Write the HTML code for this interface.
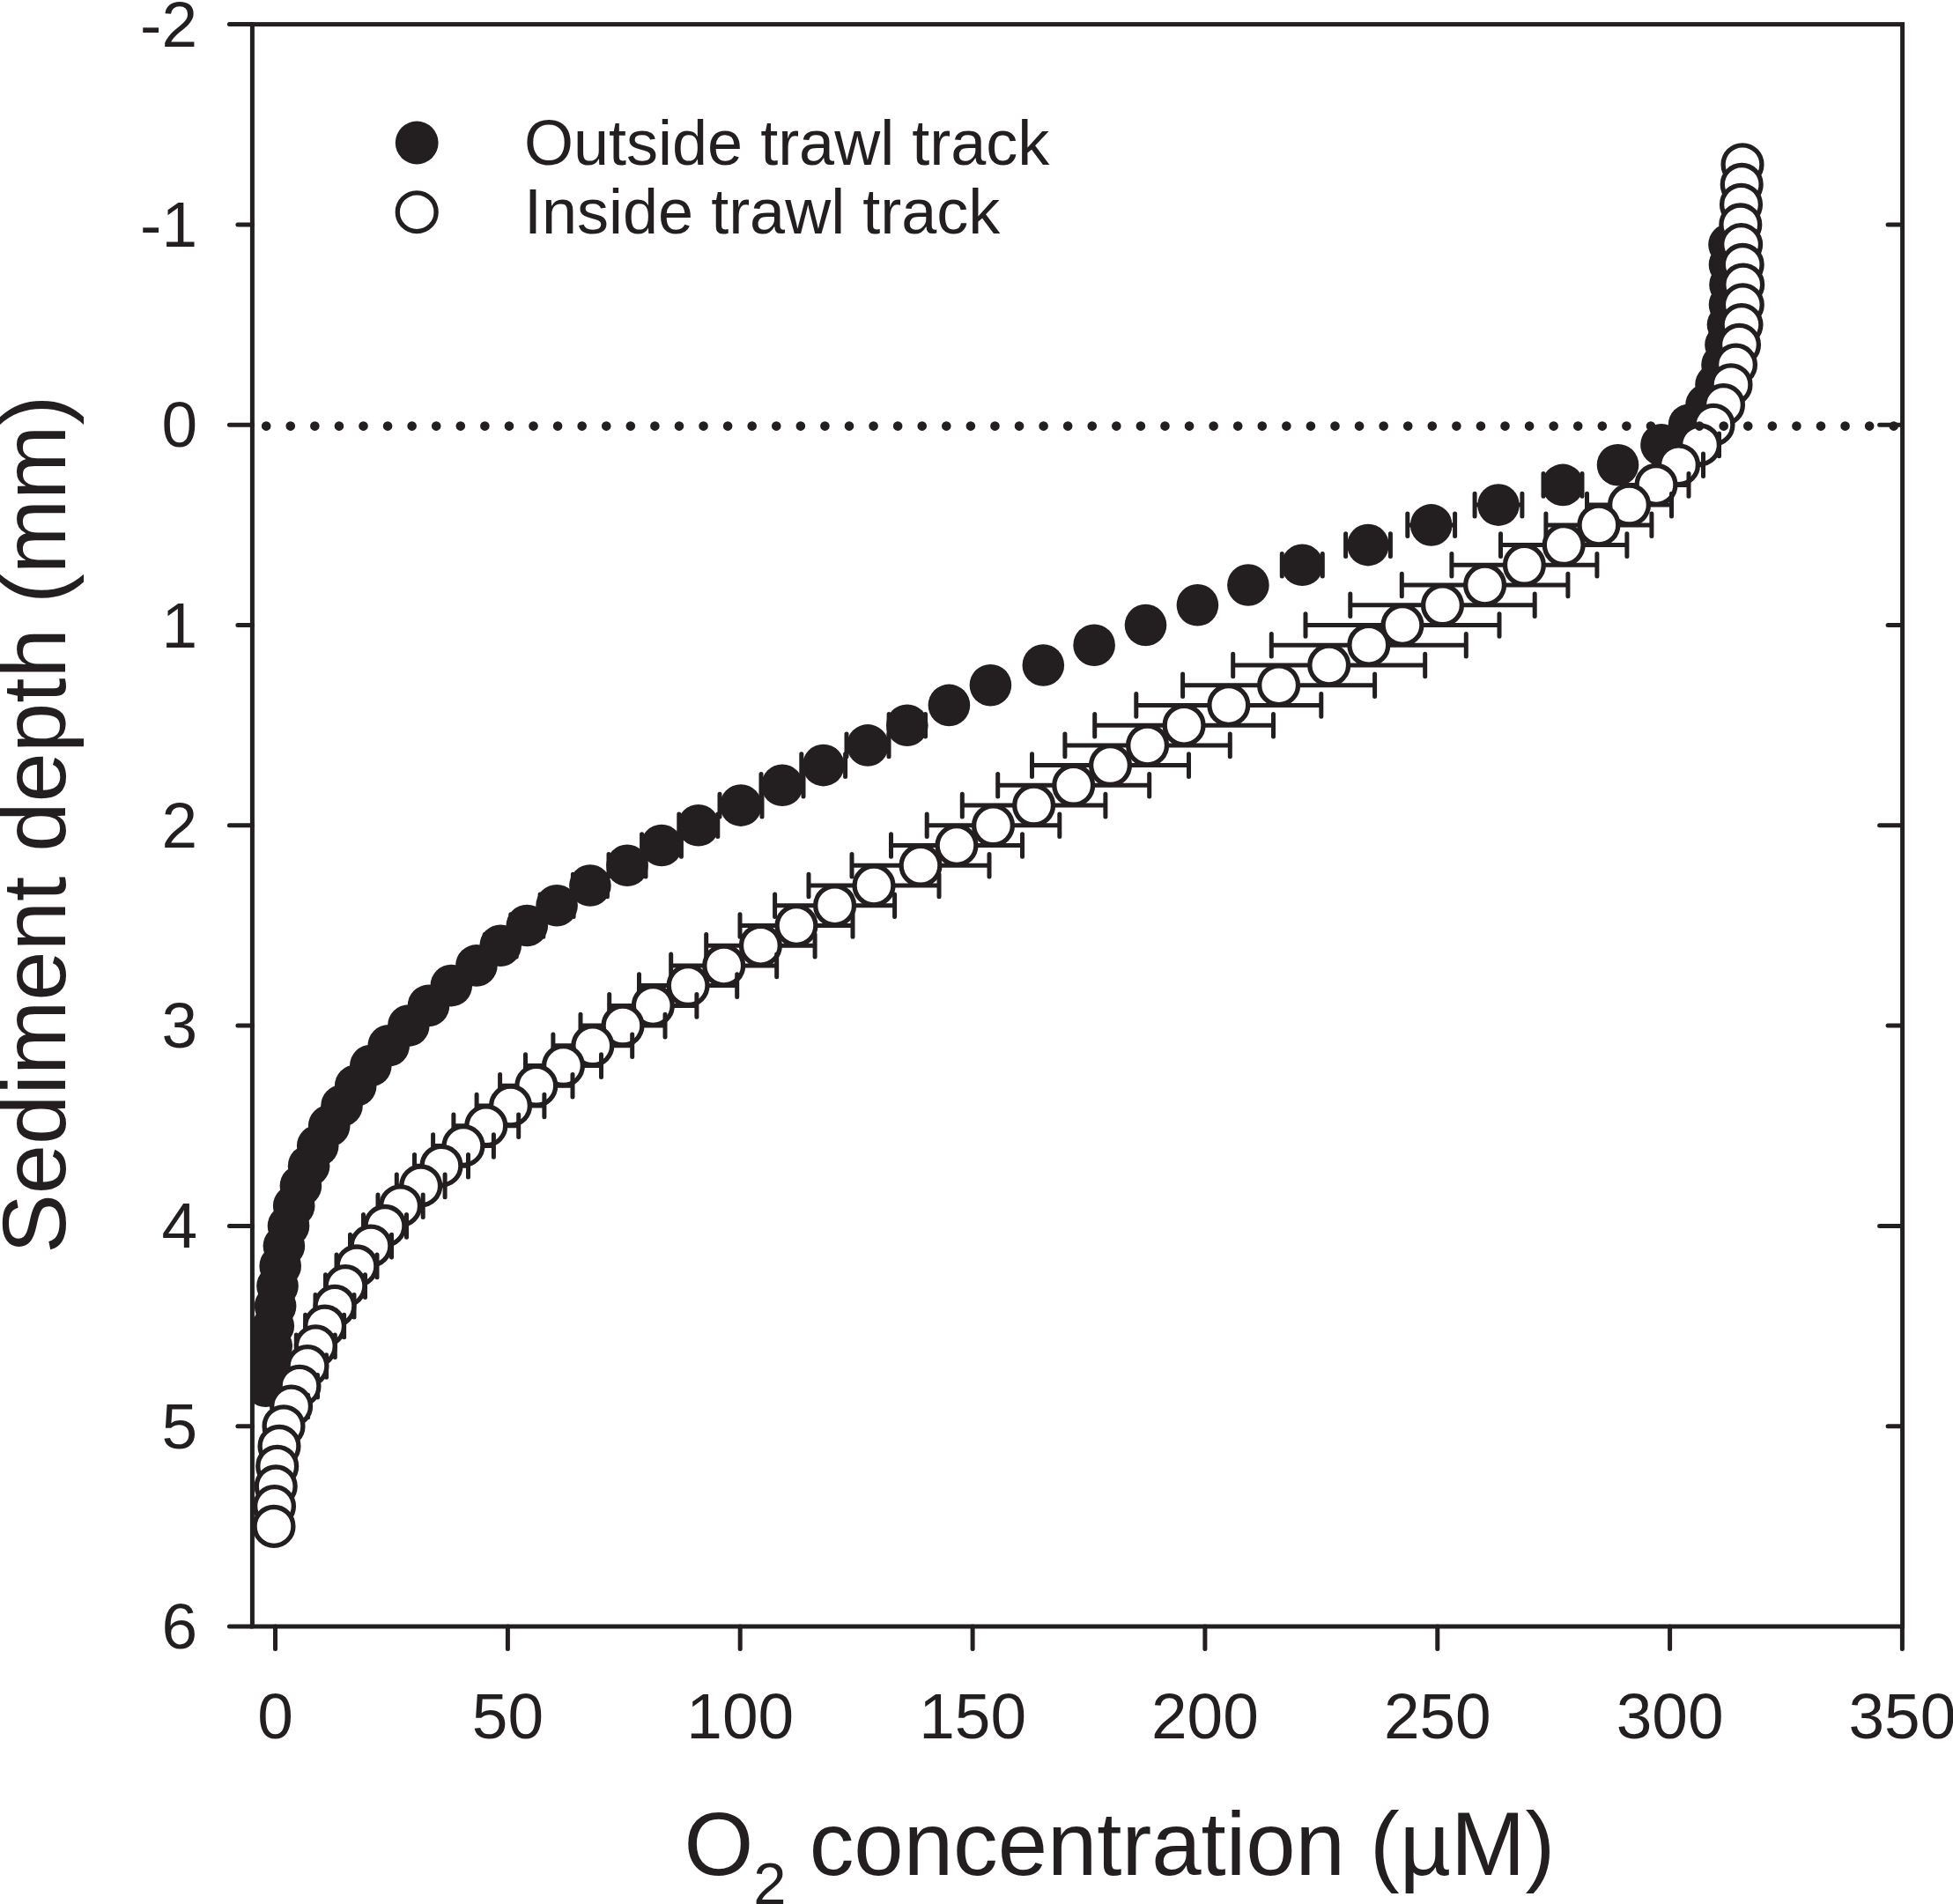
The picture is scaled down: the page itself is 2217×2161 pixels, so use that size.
<!DOCTYPE html>
<html lang="en"><head><meta charset="utf-8"><title>O2 concentration vs sediment depth</title>
<style>
html,body{margin:0;padding:0;background:#fff}
body{width:2217px;height:2161px;overflow:hidden}
svg{display:block}
text{font-family:"Liberation Sans",Arial,Helvetica,sans-serif;fill:#231f20}
</style></head><body>
<svg width="2217" height="2161" viewBox="0 0 2217 2161">
<defs><clipPath id="pc"><rect x="284.1" y="25.3" width="1877.8" height="1823"/></clipPath></defs>
<rect width="2217" height="2161" fill="#fff"/>
<g clip-path="url(#pc)">
<g stroke="#231f20" stroke-width="5.0" stroke-linecap="round" fill="#231f20">
<circle cx="1963" cy="277.6" r="23.8" stroke="none"/>
<circle cx="1963.5" cy="300.4" r="23.8" stroke="none"/>
<circle cx="1964" cy="323.1" r="23.8" stroke="none"/>
<circle cx="1963.5" cy="345.8" r="23.8" stroke="none"/>
<circle cx="1961.5" cy="368.5" r="23.8" stroke="none"/>
<circle cx="1959" cy="391.3" r="23.8" stroke="none"/>
<circle cx="1955" cy="414" r="23.8" stroke="none"/>
<circle cx="1948" cy="436.7" r="23.8" stroke="none"/>
<circle cx="1937" cy="459.5" r="23.8" stroke="none"/>
<circle cx="1917.5" cy="482.2" r="23.8" stroke="none"/>
<circle cx="1886" cy="504.9" r="23.8" stroke="none"/>
<circle cx="1836.5" cy="527.7" r="23.8" stroke="none"/>
<path d="M1752 550.4H1796M1752 537.6V563.2M1796 537.6V563.2"/>
<circle cx="1774" cy="550.4" r="23.8" stroke="none"/>
<path d="M1674.1 573.1H1727.9M1674.1 560.3V585.9M1727.9 560.3V585.9"/>
<circle cx="1701" cy="573.1" r="23.8" stroke="none"/>
<path d="M1597.8 595.9H1651.6M1597.8 583.1V608.6M1651.6 583.1V608.6"/>
<circle cx="1624.7" cy="595.9" r="23.8" stroke="none"/>
<path d="M1527.6 618.6H1578.4M1527.6 605.8V631.4M1578.4 605.8V631.4"/>
<circle cx="1553" cy="618.6" r="23.8" stroke="none"/>
<path d="M1455.3 641.3H1501.3M1455.3 628.5V654.1M1501.3 628.5V654.1"/>
<circle cx="1478.3" cy="641.3" r="23.8" stroke="none"/>
<circle cx="1416.9" cy="664" r="23.8" stroke="none"/>
<circle cx="1359.4" cy="686.8" r="23.8" stroke="none"/>
<circle cx="1300.5" cy="709.5" r="23.8" stroke="none"/>
<circle cx="1242.1" cy="732.2" r="23.8" stroke="none"/>
<circle cx="1184.3" cy="755" r="23.8" stroke="none"/>
<circle cx="1124.4" cy="777.7" r="23.8" stroke="none"/>
<circle cx="1077.4" cy="800.4" r="23.8" stroke="none"/>
<path d="M1009.1 823.2H1050.5M1009.1 810.4V836M1050.5 810.4V836"/>
<circle cx="1029.8" cy="823.2" r="23.8" stroke="none"/>
<path d="M961 845.9H1009M961 833.1V858.7M1009 833.1V858.7"/>
<circle cx="985" cy="845.9" r="23.8" stroke="none"/>
<path d="M909.8 868.6H959.6M909.8 855.8V881.4M959.6 855.8V881.4"/>
<circle cx="934.7" cy="868.6" r="23.8" stroke="none"/>
<path d="M864 891.3H912M864 878.5V904.1M912 878.5V904.1"/>
<circle cx="888" cy="891.3" r="23.8" stroke="none"/>
<path d="M817 914.1H865M817 901.3V926.9M865 901.3V926.9"/>
<circle cx="841" cy="914.1" r="23.8" stroke="none"/>
<path d="M770.8 936.8H814.8M770.8 924V949.6M814.8 924V949.6"/>
<circle cx="792.8" cy="936.8" r="23.8" stroke="none"/>
<path d="M728.6 959.5H773.4M728.6 946.7V972.3M773.4 946.7V972.3"/>
<circle cx="751" cy="959.5" r="23.8" stroke="none"/>
<path d="M691 982.3H733M691 969.5V995.1M733 969.5V995.1"/>
<circle cx="712" cy="982.3" r="23.8" stroke="none"/>
<path d="M650.4 1005H689.4M650.4 992.2V1017.8M689.4 992.2V1017.8"/>
<circle cx="669.9" cy="1005" r="23.8" stroke="none"/>
<path d="M613.1 1027.7H651.1M613.1 1014.9V1040.5M651.1 1014.9V1040.5"/>
<circle cx="632.1" cy="1027.7" r="23.8" stroke="none"/>
<path d="M579.8 1050.5H616.8M579.8 1037.7V1063.2M616.8 1037.7V1063.2"/>
<circle cx="598.3" cy="1050.5" r="23.8" stroke="none"/>
<path d="M550.2 1073.2H586.2M550.2 1060.4V1086M586.2 1060.4V1086"/>
<circle cx="568.2" cy="1073.2" r="23.8" stroke="none"/>
<circle cx="540.9" cy="1095.9" r="23.8" stroke="none"/>
<circle cx="512.3" cy="1118.6" r="23.8" stroke="none"/>
<circle cx="486.5" cy="1141.4" r="23.8" stroke="none"/>
<circle cx="463.8" cy="1164.1" r="23.8" stroke="none"/>
<circle cx="441.2" cy="1186.8" r="23.8" stroke="none"/>
<circle cx="420.8" cy="1209.6" r="23.8" stroke="none"/>
<circle cx="403.7" cy="1232.3" r="23.8" stroke="none"/>
<circle cx="388" cy="1255" r="23.8" stroke="none"/>
<circle cx="373.7" cy="1277.8" r="23.8" stroke="none"/>
<circle cx="360.7" cy="1300.5" r="23.8" stroke="none"/>
<circle cx="350.6" cy="1323.2" r="23.8" stroke="none"/>
<circle cx="341.4" cy="1345.9" r="23.8" stroke="none"/>
<circle cx="333.7" cy="1368.7" r="23.8" stroke="none"/>
<circle cx="327.5" cy="1391.4" r="23.8" stroke="none"/>
<circle cx="322.4" cy="1414.1" r="23.8" stroke="none"/>
<circle cx="318.2" cy="1436.9" r="23.8" stroke="none"/>
<circle cx="315" cy="1459.6" r="23.8" stroke="none"/>
<circle cx="312.6" cy="1482.3" r="23.8" stroke="none"/>
<circle cx="310.3" cy="1505" r="23.8" stroke="none"/>
<circle cx="308.2" cy="1527.8" r="23.8" stroke="none"/>
<circle cx="306.7" cy="1550.5" r="23.8" stroke="none"/>
<circle cx="301.5" cy="1573.2" r="23.8" stroke="none"/>
</g>
<g stroke="#231f20" stroke-width="5.0" stroke-linecap="round" fill="#fff">
<circle cx="1978" cy="186.7" r="21.9" stroke-width="5.3"/>
<circle cx="1977.2" cy="209.4" r="21.9" stroke-width="5.3"/>
<circle cx="1976.5" cy="232.2" r="21.9" stroke-width="5.3"/>
<circle cx="1975.8" cy="254.9" r="21.9" stroke-width="5.3"/>
<circle cx="1976.6" cy="277.6" r="21.9" stroke-width="5.3"/>
<circle cx="1978.2" cy="300.4" r="21.9" stroke-width="5.3"/>
<circle cx="1978.7" cy="323.1" r="21.9" stroke-width="5.3"/>
<circle cx="1978.3" cy="345.8" r="21.9" stroke-width="5.3"/>
<circle cx="1977" cy="368.5" r="21.9" stroke-width="5.3"/>
<circle cx="1974.5" cy="391.3" r="21.9" stroke-width="5.3"/>
<circle cx="1970.5" cy="414" r="21.9" stroke-width="5.3"/>
<circle cx="1965" cy="436.7" r="21.9" stroke-width="5.3"/>
<circle cx="1956.5" cy="459.5" r="21.9" stroke-width="5.3"/>
<circle cx="1945" cy="482.2" r="21.9" stroke-width="5.3"/>
<path d="M1907.5 504.9H1951.5M1907.5 492.1V517.7M1951.5 492.1V517.7"/>
<circle cx="1929.5" cy="504.9" r="21.9" stroke-width="5.3"/>
<path d="M1877.5 527.7H1933.5M1877.5 514.9V540.5M1933.5 514.9V540.5"/>
<circle cx="1905.5" cy="527.7" r="21.9" stroke-width="5.3"/>
<path d="M1843 550.4H1917M1843 537.6V563.2M1917 537.6V563.2"/>
<circle cx="1880" cy="550.4" r="21.9" stroke-width="5.3"/>
<path d="M1801.5 573.1H1897.5M1801.5 560.3V585.9M1897.5 560.3V585.9"/>
<circle cx="1849.5" cy="573.1" r="21.9" stroke-width="5.3"/>
<path d="M1754.9 595.9H1874.9M1754.9 583.1V608.6M1874.9 583.1V608.6"/>
<circle cx="1814.9" cy="595.9" r="21.9" stroke-width="5.3"/>
<path d="M1703.5 618.6H1846.9M1703.5 605.8V631.4M1846.9 605.8V631.4"/>
<circle cx="1775.2" cy="618.6" r="21.9" stroke-width="5.3"/>
<path d="M1647.9 641.3H1812.9M1647.9 628.5V654.1M1812.9 628.5V654.1"/>
<circle cx="1730.4" cy="641.3" r="21.9" stroke-width="5.3"/>
<path d="M1591.3 664H1779.9M1591.3 651.2V676.8M1779.9 651.2V676.8"/>
<circle cx="1685.6" cy="664" r="21.9" stroke-width="5.3"/>
<path d="M1532.8 686.8H1742.2M1532.8 674V699.6M1742.2 674V699.6"/>
<circle cx="1637.5" cy="686.8" r="21.9" stroke-width="5.3"/>
<path d="M1482 709.5H1702M1482 696.7V722.3M1702 696.7V722.3"/>
<circle cx="1592" cy="709.5" r="21.9" stroke-width="5.3"/>
<path d="M1443.3 732.2H1664.3M1443.3 719.4V745M1664.3 719.4V745"/>
<circle cx="1553.8" cy="732.2" r="21.9" stroke-width="5.3"/>
<path d="M1399.7 755H1617.7M1399.7 742.2V767.8M1617.7 742.2V767.8"/>
<circle cx="1508.7" cy="755" r="21.9" stroke-width="5.3"/>
<path d="M1342.6 777.7H1560.6M1342.6 764.9V790.5M1560.6 764.9V790.5"/>
<circle cx="1451.6" cy="777.7" r="21.9" stroke-width="5.3"/>
<path d="M1289.8 800.4H1499.8M1289.8 787.6V813.2M1499.8 787.6V813.2"/>
<circle cx="1394.8" cy="800.4" r="21.9" stroke-width="5.3"/>
<path d="M1242.7 823.2H1445.5M1242.7 810.4V836M1445.5 810.4V836"/>
<circle cx="1344.1" cy="823.2" r="21.9" stroke-width="5.3"/>
<path d="M1208.9 845.9H1396.3M1208.9 833.1V858.7M1396.3 833.1V858.7"/>
<circle cx="1302.6" cy="845.9" r="21.9" stroke-width="5.3"/>
<path d="M1171.5 868.6H1349.5M1171.5 855.8V881.4M1349.5 855.8V881.4"/>
<circle cx="1260.5" cy="868.6" r="21.9" stroke-width="5.3"/>
<path d="M1132.7 891.3H1304.7M1132.7 878.5V904.1M1304.7 878.5V904.1"/>
<circle cx="1218.7" cy="891.3" r="21.9" stroke-width="5.3"/>
<path d="M1092.3 914.1H1254.9M1092.3 901.3V926.9M1254.9 901.3V926.9"/>
<circle cx="1173.6" cy="914.1" r="21.9" stroke-width="5.3"/>
<path d="M1052.2 936.8H1202.8M1052.2 924V949.6M1202.8 924V949.6"/>
<circle cx="1127.5" cy="936.8" r="21.9" stroke-width="5.3"/>
<path d="M1011.5 959.5H1160.5M1011.5 946.7V972.3M1160.5 946.7V972.3"/>
<circle cx="1086" cy="959.5" r="21.9" stroke-width="5.3"/>
<path d="M967 982.3H1123M967 969.5V995.1M1123 969.5V995.1"/>
<circle cx="1045" cy="982.3" r="21.9" stroke-width="5.3"/>
<path d="M918 1005H1066M918 992.2V1017.8M1066 992.2V1017.8"/>
<circle cx="992" cy="1005" r="21.9" stroke-width="5.3"/>
<path d="M879.6 1027.7H1015.6M879.6 1014.9V1040.5M1015.6 1014.9V1040.5"/>
<circle cx="947.6" cy="1027.7" r="21.9" stroke-width="5.3"/>
<path d="M840 1050.5H968M840 1037.7V1063.2M968 1037.7V1063.2"/>
<circle cx="904" cy="1050.5" r="21.9" stroke-width="5.3"/>
<path d="M801.7 1073.2H925.1M801.7 1060.4V1086M925.1 1060.4V1086"/>
<circle cx="863.4" cy="1073.2" r="21.9" stroke-width="5.3"/>
<path d="M761.7 1095.9H881.7M761.7 1083.1V1108.7M881.7 1083.1V1108.7"/>
<circle cx="821.7" cy="1095.9" r="21.9" stroke-width="5.3"/>
<path d="M725.5 1118.6H836.7M725.5 1105.8V1131.4M836.7 1105.8V1131.4"/>
<circle cx="781.1" cy="1118.6" r="21.9" stroke-width="5.3"/>
<path d="M691.7 1141.4H790.9M691.7 1128.6V1154.2M790.9 1128.6V1154.2"/>
<circle cx="741.3" cy="1141.4" r="21.9" stroke-width="5.3"/>
<path d="M659 1164.1H755M659 1151.3V1176.9M755 1151.3V1176.9"/>
<circle cx="707" cy="1164.1" r="21.9" stroke-width="5.3"/>
<path d="M627.9 1186.8H717.7M627.9 1174V1199.6M717.7 1174V1199.6"/>
<circle cx="672.8" cy="1186.8" r="21.9" stroke-width="5.3"/>
<path d="M596.5 1209.6H682.5M596.5 1196.8V1222.4M682.5 1196.8V1222.4"/>
<circle cx="639.5" cy="1209.6" r="21.9" stroke-width="5.3"/>
<path d="M567.6 1232.3H650M567.6 1219.5V1245.1M650 1219.5V1245.1"/>
<circle cx="608.8" cy="1232.3" r="21.9" stroke-width="5.3"/>
<path d="M541.1 1255H617.9M541.1 1242.2V1267.8M617.9 1242.2V1267.8"/>
<circle cx="579.5" cy="1255" r="21.9" stroke-width="5.3"/>
<path d="M514.9 1277.8H588.7M514.9 1265V1290.5M588.7 1265V1290.5"/>
<circle cx="551.8" cy="1277.8" r="21.9" stroke-width="5.3"/>
<path d="M491.6 1300.5H560.4M491.6 1287.7V1313.3M560.4 1287.7V1313.3"/>
<circle cx="526" cy="1300.5" r="21.9" stroke-width="5.3"/>
<path d="M470.5 1323.2H531.5M470.5 1310.4V1336M531.5 1310.4V1336"/>
<circle cx="501" cy="1323.2" r="21.9" stroke-width="5.3"/>
<path d="M450.3 1345.9H505.1M450.3 1333.1V1358.7M505.1 1333.1V1358.7"/>
<circle cx="477.7" cy="1345.9" r="21.9" stroke-width="5.3"/>
<path d="M429 1368.7H480.2M429 1355.9V1381.5M480.2 1355.9V1381.5"/>
<circle cx="454.6" cy="1368.7" r="21.9" stroke-width="5.3"/>
<path d="M412.5 1391.4H461.5M412.5 1378.6V1404.2M461.5 1378.6V1404.2"/>
<circle cx="437" cy="1391.4" r="21.9" stroke-width="5.3"/>
<path d="M397.5 1414.1H444.5M397.5 1401.3V1426.9M444.5 1401.3V1426.9"/>
<circle cx="421" cy="1414.1" r="21.9" stroke-width="5.3"/>
<path d="M382 1436.9H428M382 1424.1V1449.7M428 1424.1V1449.7"/>
<circle cx="405" cy="1436.9" r="21.9" stroke-width="5.3"/>
<path d="M369.5 1459.6H414.5M369.5 1446.8V1472.4M414.5 1446.8V1472.4"/>
<circle cx="392" cy="1459.6" r="21.9" stroke-width="5.3"/>
<path d="M358 1482.3H402M358 1469.5V1495.1M402 1469.5V1495.1"/>
<circle cx="380" cy="1482.3" r="21.9" stroke-width="5.3"/>
<path d="M346.6 1505H390.6M346.6 1492.2V1517.8M390.6 1492.2V1517.8"/>
<circle cx="368.6" cy="1505" r="21.9" stroke-width="5.3"/>
<path d="M336.3 1527.8H380.3M336.3 1515V1540.6M380.3 1515V1540.6"/>
<circle cx="358.3" cy="1527.8" r="21.9" stroke-width="5.3"/>
<path d="M327.5 1550.5H370.5M327.5 1537.7V1563.3M370.5 1537.7V1563.3"/>
<circle cx="349" cy="1550.5" r="21.9" stroke-width="5.3"/>
<path d="M319.5 1573.2H360.5M319.5 1560.4V1586M360.5 1560.4V1586"/>
<circle cx="340" cy="1573.2" r="21.9" stroke-width="5.3"/>
<path d="M311.6 1596H349.6M311.6 1583.2V1608.8M349.6 1583.2V1608.8"/>
<circle cx="330.6" cy="1596" r="21.9" stroke-width="5.3"/>
<circle cx="322" cy="1618.7" r="21.9" stroke-width="5.3"/>
<circle cx="317" cy="1641.4" r="21.9" stroke-width="5.3"/>
<circle cx="314.7" cy="1664.2" r="21.9" stroke-width="5.3"/>
<circle cx="313.2" cy="1686.9" r="21.9" stroke-width="5.3"/>
<circle cx="311.5" cy="1709.6" r="21.9" stroke-width="5.3"/>
<circle cx="311" cy="1732.4" r="21.9" stroke-width="5.3"/>
</g>
</g>
<line x1="302.2" y1="483.6" x2="2152" y2="483.6" stroke="#231f20" stroke-width="10.6" stroke-linecap="round" stroke-dasharray="0 27.575"/>
<g stroke="#231f20" stroke-width="5.0" stroke-linecap="round" stroke-linejoin="miter" fill="none"><rect x="286.4" y="27.6" width="1873.2" height="1818.4" fill="none"/><path d="M286.4 27.6H260.4M286.4 254.9H269.9M2159.6 254.9H2143.1M286.4 482.2H260.4M2159.6 482.2H2133.6M286.4 709.5H269.9M2159.6 709.5H2143.1M286.4 936.8H260.4M2159.6 936.8H2133.6M286.4 1164.1H269.9M2159.6 1164.1H2143.1M286.4 1391.4H260.4M2159.6 1391.4H2133.6M286.4 1618.7H269.9M2159.6 1618.7H2143.1M286.4 1846H260.4M312.5 1846V1871.5M576.4 1846V1871.5M840.2 1846V1871.5M1104.1 1846V1871.5M1367.9 1846V1871.5M1631.8 1846V1871.5M1895.6 1846V1871.5M2159.4 1846V1871.5"/></g>
<g font-size="73"><text x="224" y="52.6" text-anchor="end">-2</text><text x="224" y="279.9" text-anchor="end">-1</text><text x="224" y="507.2" text-anchor="end">0</text><text x="224" y="734.5" text-anchor="end">1</text><text x="224" y="961.8" text-anchor="end">2</text><text x="224" y="1189.1" text-anchor="end">3</text><text x="224" y="1416.4" text-anchor="end">4</text><text x="224" y="1643.7" text-anchor="end">5</text><text x="224" y="1871" text-anchor="end">6</text><text x="312.5" y="1972.5" text-anchor="middle">0</text><text x="576.4" y="1972.5" text-anchor="middle">50</text><text x="840.2" y="1972.5" text-anchor="middle">100</text><text x="1104.1" y="1972.5" text-anchor="middle">150</text><text x="1367.9" y="1972.5" text-anchor="middle">200</text><text x="1631.8" y="1972.5" text-anchor="middle">250</text><text x="1895.6" y="1972.5" text-anchor="middle">300</text><text x="2159.4" y="1972.5" text-anchor="middle">350</text></g>
<circle cx="473.2" cy="162" r="24.4" fill="#231f20"/>
<circle cx="473.2" cy="240.7" r="21.9" fill="#fff" stroke="#231f20" stroke-width="5.3"/>
<g font-size="72"><text x="595" y="186.6">Outside trawl track</text><text x="595" y="265">Inside trawl track</text></g>
<text font-size="101.3" x="776.5" y="2128">O<tspan font-size="67" dy="33">2</tspan><tspan dy="-33" dx="-2"> concentration (µM)</tspan></text>
<text font-size="101.3" transform="translate(74 1422.8) rotate(-90)">Sediment depth (mm)</text>
</svg>
</body></html>
